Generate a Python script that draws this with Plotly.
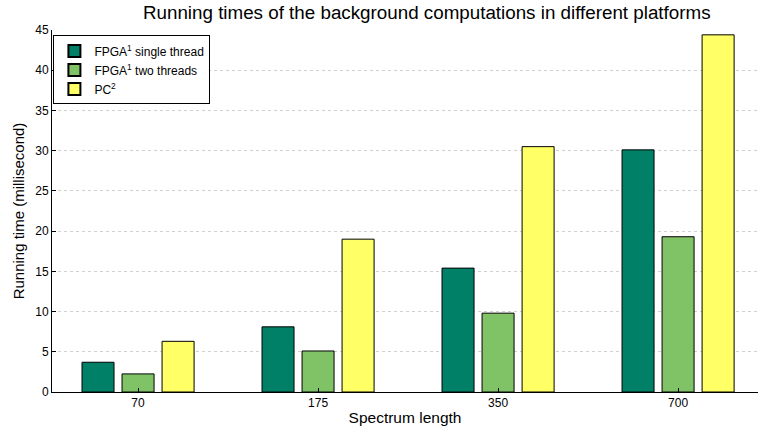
import plotly.graph_objects as go

categories = ["70", "175", "350", "700"]
fpga_single = [3.7, 8.1, 15.4, 30.1]
fpga_two = [2.25, 5.1, 9.8, 19.3]
pc = [6.3, 19.0, 30.5, 44.4]

series = [
    ("FPGA<sup>1</sup> single thread", fpga_single, "#008066"),
    ("FPGA<sup>1</sup> two threads", fpga_two, "#80c266"),
    ("PC<sup>2</sup>", pc, "#ffff66"),
]

fig = go.Figure()
for name, vals, color in series:
    fig.add_trace(go.Bar(
        x=list(range(len(categories))), y=vals, name=name,
        marker=dict(color=color, line=dict(color="black", width=1)),
    ))

font = "Liberation Sans, Arial, sans-serif"
fig.update_layout(
    width=758, height=430,
    margin=dict(l=52, r=0, t=30, b=38),
    paper_bgcolor="white", plot_bgcolor="white",
    barmode="group", bargap=0.333, bargroupgap=0.2,
    font=dict(family=font, size=12, color="black"),
    title=dict(text="Running times of the background computations in different platforms",
               x=0.563, xanchor="center", y=0.972, yanchor="middle",
               font=dict(size=18.8, family=font, color="black")),
    showlegend=True,
    legend=dict(x=0.002, y=0.985, xanchor="left", yanchor="top",
                bgcolor="white", bordercolor="black", borderwidth=1,
                font=dict(size=12, family=font), tracegroupgap=0,
                itemsizing="constant"),
    xaxis=dict(
        tickmode="array", tickvals=list(range(len(categories))), ticktext=categories,
        range=[-0.478, 3.444], showline=True, linecolor="black", linewidth=1,
        ticks="inside", ticklen=4, tickcolor="black", showgrid=False, zeroline=False,
        title=dict(text="Spectrum length", font=dict(size=15.5, family=font), standoff=2),
        tickfont=dict(size=12),
    ),
    yaxis=dict(
        range=[0, 45], tickmode="array", tickvals=list(range(0, 46, 5)),
        showline=True, linecolor="black", linewidth=1,
        ticks="inside", ticklen=4, tickcolor="black",
        showgrid=True, gridcolor="#d0d0d0", griddash="dot", gridwidth=1,
        zeroline=False,
        title=dict(text="Running time (millisecond)", font=dict(size=15, family=font), standoff=6),
        tickfont=dict(size=12),
    ),
)

fig.write_html("out.html")
